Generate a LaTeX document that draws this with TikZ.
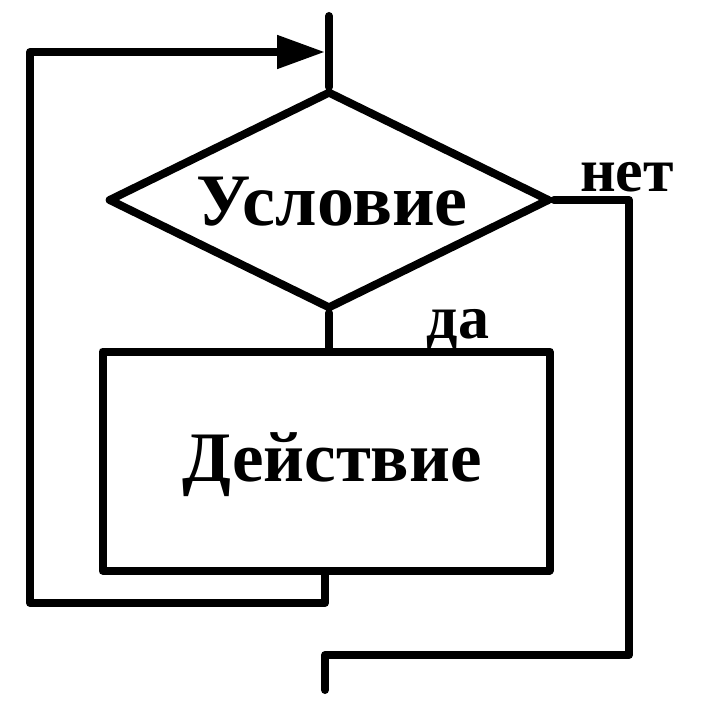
\documentclass[tikz,border=0pt]{standalone}
\usepackage{fontspec}
\setmainfont{Liberation Serif}
\usetikzlibrary{shapes.geometric,arrows.meta}
\begin{document}
\begin{tikzpicture}[x=1pt,y=-1pt,
  ln/.style={line width=8pt,line cap=round,line join=round},
  lbl/.style={font=\bfseries\fontsize{74}{80}\selectfont,inner sep=0pt},
  sml/.style={font=\bfseries\fontsize{62}{66}\selectfont,inner sep=0pt}]
\useasboundingbox (0,0) rectangle (703,711);
\node[ln,draw,diamond,shape aspect=2.02,inner sep=0pt,minimum width=442pt,minimum height=218pt] (cond) at (329,200) {};
\node[lbl] (ctext) at (332,202) {Условие};
\node[ln,draw,rectangle,minimum width=447pt,minimum height=219pt,inner sep=0pt] (act) at (326,461) {};
\node[lbl,font=\bfseries\fontsize{71}{76}\selectfont] (atext) at (332,465) {Действие};
\node[sml,anchor=base] (no) at (627,192) {нет};
\node[sml,anchor=base] (yes) at (458,338) {да};
\coordinate (top) at (329,16);
\coordinate (tip) at (325,52);
\coordinate (lb) at (30,603);
\coordinate (lt) at (30,52);
\coordinate (rt) at (629,200);
\coordinate (rb) at (629,655);
\coordinate (ex) at (325,690);
\draw[ln] (cond.north) -- (top);
\draw[ln] (cond.south) -- (act.north -| cond.south);
\draw[ln,-{Triangle[length=48pt,width=32pt]}] (act.south -| ex) -- (lb -| ex) -- (lb) -- (lt) -- (tip);
\draw[ln] (cond.east) -- (rt) -- (rb) -- (rb -| ex) -- (ex);
\end{tikzpicture}
\end{document}
